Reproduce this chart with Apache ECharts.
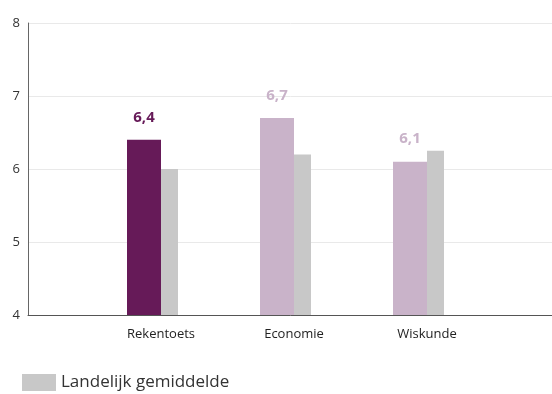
<!DOCTYPE html>
<html lang="nl">
<head>
    <meta charset="UTF-8">
    <title>Cijfers</title>
    <script src="https://cdn.jsdelivr.net/npm/echarts@6.0.0/dist/echarts.min.js"></script>
    <style>
        html, body { margin: 0; padding: 0; background: #fff; }
        #chart { width: 552px; height: 394px; }
    </style>
</head>
<body>
    <div id="chart"></div>
    <script>
        // lege categorie aan begin en eind zodat de labels op de ticks vallen
        const categories = ['', 'Rekentoets', 'Economie', 'Wiskunde', ''];
        const schoolValues = [null, 6.4, 6.7, 6.1, null];
        const landelijkValues = [null, 6.0, 6.2, 6.25, null];
        const yTicks = [4, 5, 6, 7, 8];

        const purpleDark = '#661a58';
        const purpleLight = '#c9b3c9';
        const grey = '#c8c8c8';

        const chart = echarts.init(document.getElementById('chart'));

        chart.setOption({
            animation: false,
            textStyle: { fontFamily: 'Open Sans' },
            grid: { left: 28, right: -8, top: 23, bottom: 79, containLabel: false, outerBoundsMode: 'none' },
            legend: {
                data: ['Landelijk gemiddelde'],
                left: 17, top: 369,
                itemWidth: 34, itemHeight: 17, itemGap: 9,
                icon: 'rect',
                textStyle: { fontSize: 17, color: '#333', fontFamily: 'Open Sans' }
            },
            xAxis: {
                type: 'category',
                data: categories,
                boundaryGap: false,
                axisLine: { lineStyle: { color: '#555', width: 1 } },
                axisTick: { show: false },
                axisLabel: { color: '#222', fontSize: 13, margin: 13, interval: 0 },
                splitLine: { show: false }
            },
            yAxis: {
                type: 'value',
                min: yTicks[0],
                max: yTicks[yTicks.length - 1],
                interval: 1,
                axisLine: { show: true, lineStyle: { color: '#666', width: 1 } },
                axisTick: { show: false },
                axisLabel: { color: '#333', fontSize: 13, margin: 8 },
                splitLine: { lineStyle: { color: '#e9e9e9' } }
            },
            series: [
                {
                    name: 'School',
                    type: 'bar',
                    barWidth: 34,
                    barGap: 0,
                    data: schoolValues.map((v, i) => v === null ? null : {
                        value: v,
                        itemStyle: { color: i === 1 ? purpleDark : purpleLight },
                        label: { color: i === 1 ? purpleDark : purpleLight }
                    }),
                    label: {
                        show: true,
                        position: 'top',
                        distance: 15,
                        fontSize: 15,
                        fontWeight: 'bold',
                        formatter: p => p.value.toFixed(1).replace('.', ',')
                    }
                },
                {
                    name: 'Landelijk gemiddelde',
                    type: 'bar',
                    barWidth: 17,
                    barGap: 0,
                    itemStyle: { color: grey },
                    data: landelijkValues
                },
                {
                    // lege ruimte, houdt de groep rond het label gecentreerd
                    name: 'ruimte',
                    type: 'bar',
                    barWidth: 17,
                    barGap: 0,
                    itemStyle: { color: 'rgba(0,0,0,0)' },
                    data: categories.map(() => null)
                }
            ]
        });
    </script>
</body>
</html>
